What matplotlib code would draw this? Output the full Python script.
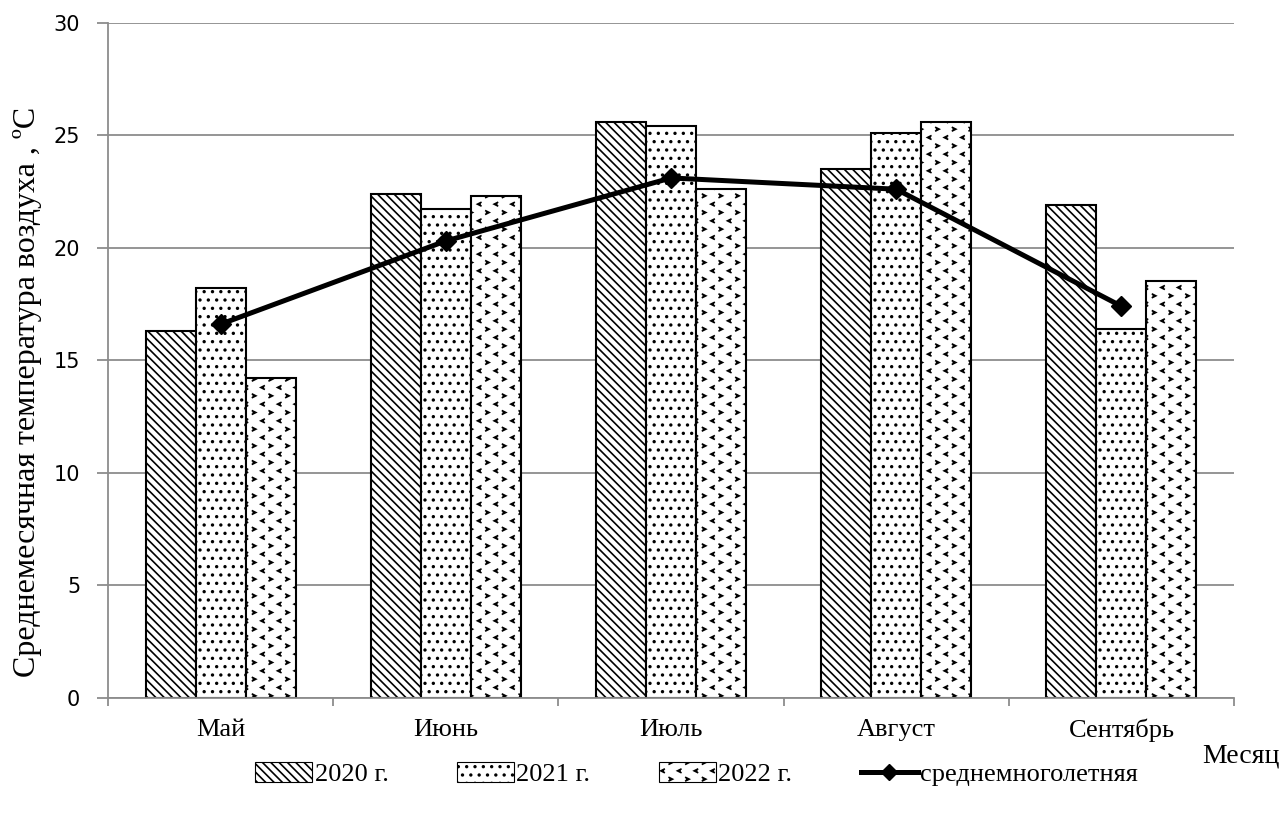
import warnings
warnings.filterwarnings("ignore")
import matplotlib
matplotlib.use("Agg")
import matplotlib.pyplot as plt
import numpy as np
from matplotlib import hatch as mhatch
from matplotlib.path import Path
from matplotlib.patches import Patch
from matplotlib.lines import Line2D

months = ["Май", "Июнь", "Июль", "Август", "Сентябрь"]
t2020 = [16.3, 22.4, 25.6, 23.5, 21.9]
t2021 = [18.2, 21.7, 25.4, 25.1, 16.4]
t2022 = [14.2, 22.3, 22.6, 25.6, 18.5]
t_avg = [16.6, 20.3, 23.1, 22.6, 17.4]
series_labels = ["2020 г.", "2021 г.", "2022 г.", "среднемноголетняя"]
y_ticks = [0, 5, 10, 15, 20, 25, 30]


class DivotHatch(mhatch.HatchPatternBase):
    """Small alternating '>' and '<' chevrons (Excel 'divot' pattern)."""
    def __init__(self, hatch, density):
        self.n = int(hatch.count('<') * density)
        self.num_vertices = self.n * self.n * 2 * 3
        self.filled = False
        self.should_stroke = True

    def set_vertices_and_codes(self, vertices, codes):
        n = self.n
        s = 1.0 / n
        c = 0.10 * s
        verts = []
        for i in range(n):
            for j in range(n):
                x0, y0 = (i + 0.25) * s, (j + 0.25) * s
                verts += [(x0 - c, y0 + c), (x0 + c, y0), (x0 - c, y0 - c)]
                x1, y1 = (i + 0.75) * s, (j + 0.75) * s
                verts += [(x1 + c, y1 + c), (x1 - c, y1), (x1 + c, y1 - c)]
        vertices[:] = verts
        codes[:] = [Path.MOVETO, Path.LINETO, Path.LINETO] * (n * n * 2)


if DivotHatch not in mhatch._hatch_types:
    mhatch._hatch_types.append(DivotHatch)

plt.rcParams['hatch.linewidth'] = 1.2
fig = plt.figure(figsize=(12.82, 8.14), dpi=100)
ax = fig.add_axes([108/1282, 1-697.7/814, (1234-108)/1282, (697.7-22.7)/814])

x = np.arange(len(months))
w = 1/4.5
hatches = ['\\\\\\\\', '..', '<']
for i, (vals, h) in enumerate(zip([t2020, t2021, t2022], hatches)):
    ax.bar(x + (i-1)*w, vals, width=w, color='white', edgecolor='black',
           linewidth=1.5, hatch=h, zorder=2, label=series_labels[i])
ax.plot(x, t_avg, color='black', lw=3.6, marker='D', ms=10, zorder=3,
        label=series_labels[3])

ax.set_xlim(-0.5, len(months)-0.5)
ax.set_ylim(0, 30)
ax.set_yticks(y_ticks)
ax.yaxis.grid(True, color='#8c8c8c', lw=1.3, zorder=0)
ax.set_axisbelow(True)
for s in ['top', 'right']:
    ax.spines[s].set_visible(False)
for s in ['left', 'bottom']:
    ax.spines[s].set_color('#8c8c8c')
    ax.spines[s].set_linewidth(1.3)
ax.set_xticks(np.arange(len(months)+1)-0.5, minor=False)
ax.set_xticklabels([])
ax.set_xticks(x, minor=True)
ax.set_xticklabels(months, minor=True, fontfamily='Liberation Serif', fontsize=19)
ax.tick_params(axis='x', which='minor', length=0, pad=15)
ax.tick_params(axis='x', which='major', length=6, color='#8c8c8c', width=1.3)
ax.tick_params(axis='y', length=8, color='#8c8c8c', width=1.3, pad=12, labelsize=15)
for lab in ax.get_yticklabels():
    lab.set_fontfamily('DejaVu Sans')

fig.text(13/1282, 1-392/814, "Среднемесячная температура воздуха , ºC", rotation=90,
         fontfamily='Liberation Serif', fontsize=23, ha='left', va='center')
fig.text(1280/1282, 1-756/814, "Месяц", fontfamily='Liberation Serif', fontsize=20,
         ha='right', va='center')

handles = [Patch(facecolor='white', edgecolor='black', hatch=h, lw=0.8) for h in hatches]
handles.append(Line2D([0], [0], color='black', lw=3.6, marker='D', ms=8))
leg = fig.legend(handles, series_labels, loc='center', bbox_to_anchor=(0.5435, 1-774/814),
                 ncol=4, frameon=False, prop={'family': 'Liberation Serif', 'size': 19},
                 handlelength=2.15, handleheight=0.8, handletextpad=0.1, columnspacing=2.6)

fig.savefig("out.png", dpi=100)
